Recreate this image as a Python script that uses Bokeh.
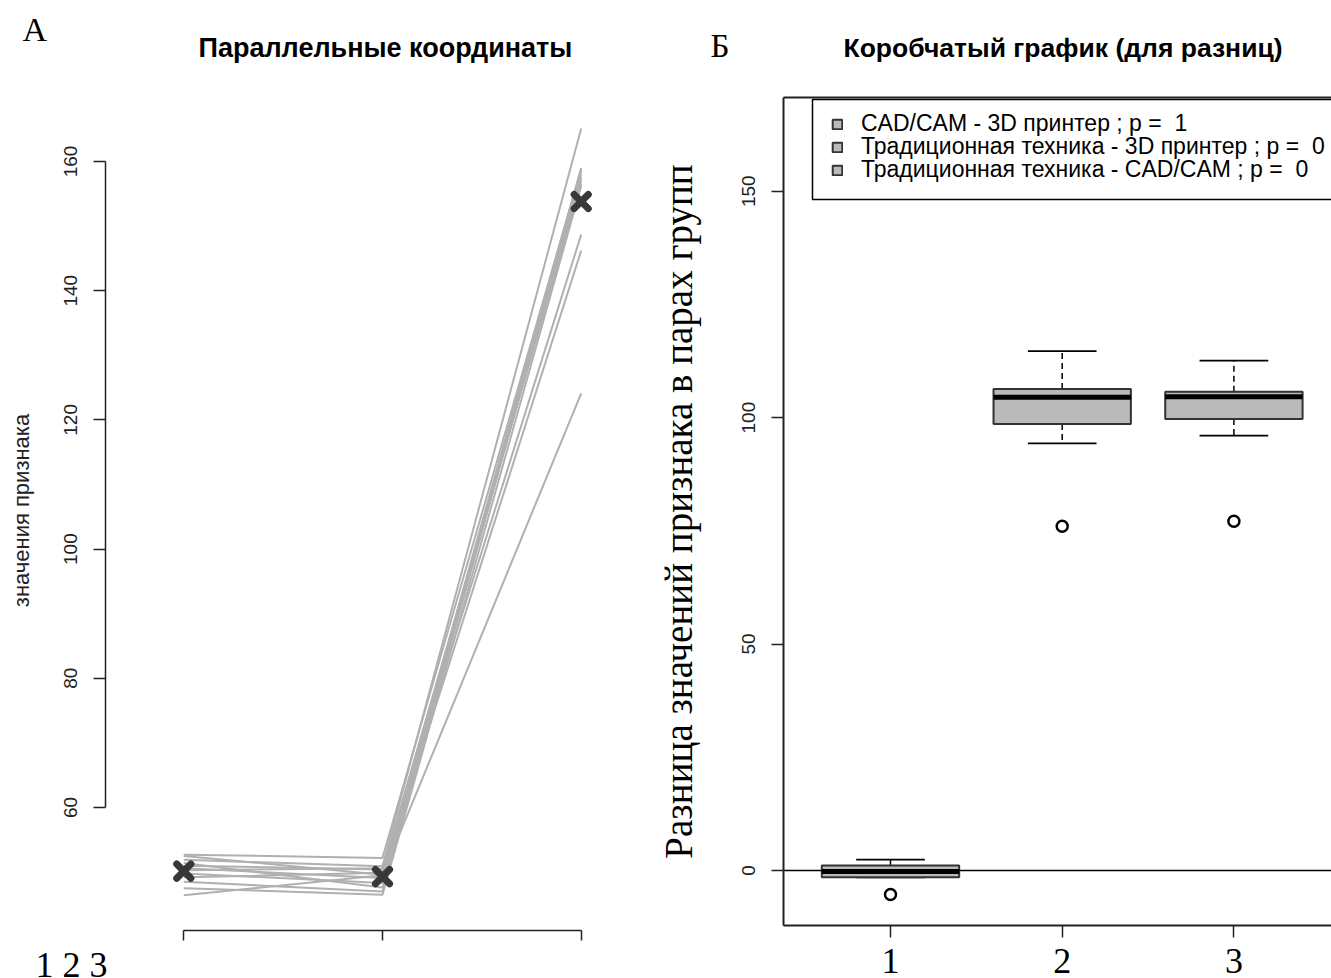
import math
from bokeh.plotting import figure
from bokeh.layouts import row
from bokeh.models import (Range1d, FixedTicker, LinearAxis, Label, ColumnDataSource,
                          Legend, LegendItem, BoxAnnotation)
from bokeh.embed import file_html
from bokeh.resources import INLINE

# ---------------- Panel A: parallel coordinates ----------------
axis_positions = [1, 2, 3]
group_1 = [52.7, 52.5, 51.9, 51.4, 51.0, 50.6, 50.3, 49.8, 49.2, 48.5, 47.5, 46.4]
group_2 = [52.2, 49.6, 50.9, 47.6, 50.4, 49.1, 50.6, 48.3, 49.9, 47.0, 46.5, 49.5]
group_3 = [158.8, 157.0, 165.1, 158.0, 156.5, 159.0, 148.7, 157.5, 146.2, 158.5, 156.2, 124.1]
left_yticks = [60, 80, 100, 120, 140, 160]
left_xtick_text = "1 2 3"
left_ylabel = "значения признака"

# ---------------- Panel B: boxplot of differences ----------------
box_positions = [1, 2, 3]
box_tick_labels = ["1", "2", "3"]
legend_labels = ["CAD/CAM - 3D принтер ; p =  1",
                 "Традиционная техника - 3D принтер ; p =  0",
                 "Традиционная техника - CAD/CAM ; p =  0"]
whisker_low = [-1.5, 94.3, 96.0]
q1 = [-1.5, 98.6, 99.7]
median = [-0.2, 104.5, 104.6]
q3 = [1.1, 106.3, 105.7]
whisker_high = [2.4, 114.7, 112.6]
outlier_pos = [1, 2, 3]
outlier_val = [-5.3, 76.0, 77.1]
right_yticks = [0, 50, 100, 150]

SANS = "Liberation Sans"
SERIF = "Liberation Serif"
DARK = "#222222"
H = 978

# ---------------- layout constants (plot regions in data units) ----------------
A_X = (0.0775, 3.3488)      # visible x range of panel A
A_Y = (33.53, 184.92)       # visible y range of panel A
A_YAXIS_AT = 0.606
A_XAXIS_AT = 40.96
B_X = (-0.3978, 3.5684)     # visible x range of panel B
B_Y = (-23.85, 192.1)       # visible y range of panel B
B_BOX_X = (0.3797, 3.5684)  # plot-region box of panel B
B_BOX_Y = (-12.14, 170.6)


def style_axis(ax, width=1.5):
    ax.axis_line_width = width
    ax.axis_line_color = DARK
    ax.major_tick_line_width = 1.5
    ax.major_tick_line_color = DARK
    ax.major_tick_in = 0
    ax.minor_tick_line_color = None


# ================= Figure A =================
p1 = figure(width=650, height=H, output_backend="svg", toolbar_location=None,
            title=None, x_range=Range1d(*A_X), y_range=Range1d(*A_Y),
            min_border=0)
p1.outline_line_color = None
p1.grid.visible = False

xs = [list(axis_positions) for _ in group_1]
ys = [[a, b, c] for a, b, c in zip(group_1, group_2, group_3)]
p1.multi_line(xs, ys, line_color="#b0b0b0", line_width=2)
means = [sum(v) / len(v) for v in (group_1, group_2, group_3)]
p1.scatter(axis_positions, means, marker="x", size=20, line_width=7,
           line_color="#383838", line_cap="round")

xa = p1.xaxis[0]
xa.fixed_location = A_XAXIS_AT
xa.ticker = FixedTicker(ticks=axis_positions)
xa.bounds = (1, 3)
xa.major_label_overrides = {1: "", 2: "", 3: ""}
xa.major_tick_out = 10
style_axis(xa)

ya = p1.yaxis[0]
ya.fixed_location = A_YAXIS_AT
ya.ticker = FixedTicker(ticks=left_yticks)
ya.bounds = (60, 160)
ya.major_label_orientation = "vertical"
ya.major_label_text_font = SANS
ya.major_label_text_font_size = "19px"
ya.major_label_text_color = "#222222"
ya.major_label_standoff = 17
ya.major_tick_out = 12
style_axis(ya)

# y-axis title, centred on the plot region like the original
p1.add_layout(Label(x=21, y=H - 510, x_units="screen", y_units="screen",
                    text=left_ylabel, angle=math.pi / 2, text_font=SANS,
                    text_font_size="22px", text_color="#222222",
                    text_align="center", text_baseline="middle"))

p1.add_layout(Label(x=198, y=931, x_units="screen", y_units="screen",
                    text="Параллельные координаты", text_font=SANS,
                    text_font_style="bold", text_font_size="27px",
                    text_color="black", text_baseline="alphabetic"))
p1.add_layout(Label(x=22, y=949, x_units="screen", y_units="screen", text="А",
                    text_font=SERIF, text_font_size="34px", text_color="black",
                    text_baseline="alphabetic"))
p1.add_layout(Label(x=35, y=14, x_units="screen", y_units="screen",
                    text=left_xtick_text, text_font=SERIF, text_font_size="36px",
                    text_color="black", text_baseline="alphabetic"))

# ================= Figure B =================
p2 = figure(width=681, height=H, output_backend="svg", toolbar_location=None,
            title=None, x_range=Range1d(*B_X), y_range=Range1d(*B_Y),
            min_border=0)
p2.outline_line_color = None
p2.grid.visible = False

half_w = 0.4
cap_w = 0.2
src = ColumnDataSource(dict(
    pos=box_positions,
    left=[p - half_w for p in box_positions],
    right=[p + half_w for p in box_positions],
    cl=[p - cap_w for p in box_positions],
    cr=[p + cap_w for p in box_positions],
    q1=q1, q3=q3, med=median, lo=whisker_low, hi=whisker_high,
))

p2.segment(x0="pos", y0="q3", x1="pos", y1="hi", source=src, line_color="black",
           line_width=1.5, line_dash="6 4")
p2.segment(x0="pos", y0="q1", x1="pos", y1="lo", source=src, line_color="black",
           line_width=1.5, line_dash="6 4")
p2.segment(x0="cl", y0="hi", x1="cr", y1="hi", source=src, line_color="black", line_width=1.8)
p2.segment(x0="cl", y0="lo", x1="cr", y1="lo", source=src, line_color="black", line_width=1.8)
boxes = p2.quad(left="left", right="right", bottom="q1", top="q3", source=src,
                fill_color="#bababa", line_color="#333333", line_width=2)
p2.segment(x0="left", y0="med", x1="right", y1="med", source=src, line_color="black",
           line_width=5)
p2.scatter(outlier_pos, outlier_val, marker="circle", size=11, line_width=2.5,
           line_color="black", fill_color="white")

# horizontal reference line at 0, from the left edge of the plot region
p2.ray(x=[B_BOX_X[0]], y=[0], length=0, angle=0, line_color="black", line_width=1.5)

xb = p2.xaxis[0]
xb.fixed_location = B_BOX_Y[0]
xb.ticker = FixedTicker(ticks=box_positions)
xb.bounds = B_BOX_X
xb.major_label_overrides = {p: t for p, t in zip(box_positions, box_tick_labels)}
xb.major_label_text_font = SERIF
xb.major_label_text_font_size = "36px"
xb.major_label_text_color = "black"
xb.major_label_standoff = 12
xb.major_tick_out = 12
style_axis(xb, 2)

yb = p2.yaxis[0]
yb.fixed_location = B_BOX_X[0]
yb.ticker = FixedTicker(ticks=right_yticks)
yb.bounds = B_BOX_Y
yb.major_label_orientation = "vertical"
yb.major_label_text_font = SANS
yb.major_label_text_font_size = "19px"
yb.major_label_text_color = "#222222"
yb.major_label_standoff = 17
yb.major_tick_out = 12
style_axis(yb, 2)
yb.axis_label = "Разница значений признака в парах групп"
yb.axis_label_text_font = SERIF
yb.axis_label_text_font_style = "normal"
yb.axis_label_text_font_size = "39px"
yb.axis_label_text_color = "black"
yb.axis_label_standoff = 39

top_axis = LinearAxis(ticker=FixedTicker(ticks=[]), fixed_location=B_BOX_Y[1],
                      bounds=B_BOX_X)
style_axis(top_axis, 2)
top_axis.major_tick_line_color = None
p2.add_layout(top_axis, "above")

# legend frame (runs off the right edge, as in the original)
p2.add_layout(BoxAnnotation(left=162, right=720, top=H - 99, bottom=H - 199,
                            left_units="screen", right_units="screen",
                            top_units="screen", bottom_units="screen",
                            fill_color="white", fill_alpha=1.0,
                            line_color="black", line_width=1.5, line_alpha=1.0))

legend_row_bottoms = [841, 818, 795]   # screen offsets of the three legend rows
for i, lbl in enumerate(legend_labels):
    lg = Legend(items=[LegendItem(label=lbl, renderers=[boxes], index=i)],
                location=(181, legend_row_bottoms[i]), padding=0, spacing=0, margin=0,
                label_height=23, glyph_height=12, glyph_width=12, label_standoff=18,
                label_text_font=SANS, label_text_font_size="23px",
                label_text_color="black", border_line_color=None,
                background_fill_alpha=0.0)
    p2.add_layout(lg)

p2.add_layout(Label(x=193, y=931, x_units="screen", y_units="screen",
                    text="Коробчатый график (для разниц)", text_font=SANS,
                    text_font_style="bold", text_font_size="26.5px",
                    text_color="black", text_baseline="alphabetic"))
p2.add_layout(Label(x=60, y=933, x_units="screen", y_units="screen", text="Б",
                    text_font=SERIF, text_font_size="33px", text_color="black",
                    text_baseline="alphabetic"))

layout = row(p1, p2, spacing=0)
open("out.html", "w").write(file_html(layout, INLINE))
